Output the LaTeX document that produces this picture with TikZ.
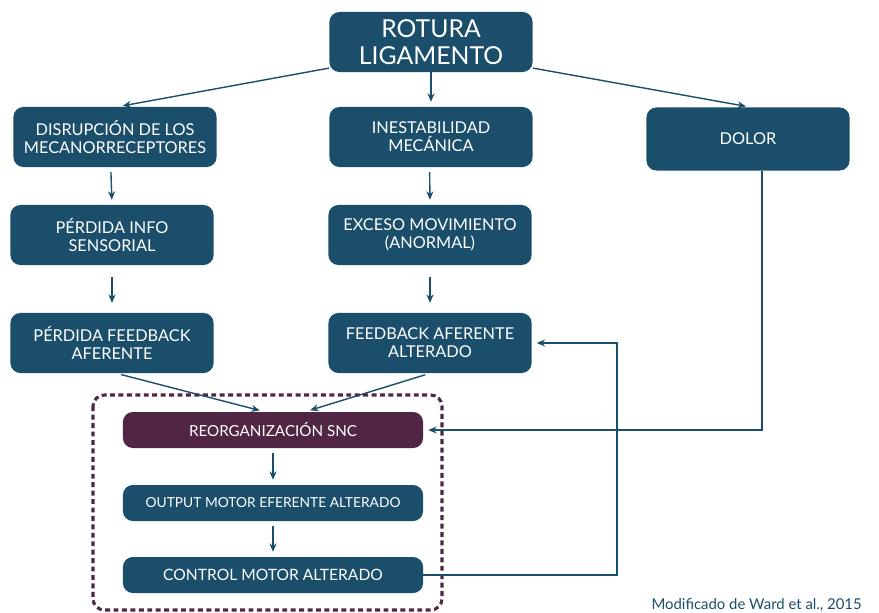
\documentclass[tikz,border=0pt]{standalone}
\usepackage{fontspec}
\setmainfont{Lato}
\usetikzlibrary{arrows.meta}

\definecolor{azul}{RGB}{27,78,106}
\definecolor{morado}{RGB}{80,38,68}

\tikzset{
  caja/.style={draw=none, fill=azul, rounded corners=7pt, text=white,
    align=center, font=\fontsize{11.6}{12.8}\selectfont,
    minimum width=5.075cm, minimum height=1.5cm, inner sep=2pt},
  cajaplana/.style={caja, minimum width=7.5cm, minimum height=0.9cm,
    font=\fontsize{10.8}{12}\selectfont},
  flecha/.style={draw=azul, line width=1pt, -{Stealth[length=6pt,width=5pt]},
    shorten <=3.5pt, shorten >=3.5pt}
}

\begin{document}
\begin{tikzpicture}[x=0.025cm,y=-0.025cm]

\useasboundingbox (0,0) rectangle (879,612);

% Fila superior
\node[caja, font=\fontsize{17.6}{19}\selectfont] (rotura) at (431,42) {ROTURA\\LIGAMENTO};

% Columnas
\node[caja] (disrupcion) at (115,137) {DISRUPCIÓN DE LOS\\MECANORRECEPTORES};
\node[caja] (inestab) at (431,137) {INESTABILIDAD\\MECÁNICA};
\node[caja, minimum height=1.575cm] (dolor) at (748,139) {DOLOR};

\node[caja] (info) at (112,235) {PÉRDIDA INFO\\SENSORIAL};
\node[caja] (exceso) at (430,235) {EXCESO MOVIMIENTO\\(ANORMAL)};

\node[caja] (pfeed) at (112,343) {PÉRDIDA FEEDBACK\\AFERENTE};
\node[caja] (afer) at (430,343) {FEEDBACK AFERENTE\\ALTERADO};

% Bloque SNC
\node[cajaplana, fill=morado] (reorg) at (273,430) {REORGANIZACIÓN SNC};
\node[cajaplana, font=\fontsize{9.8}{11}\selectfont] (output) at (273,503) {OUTPUT MOTOR EFERENTE ALTERADO};
\node[cajaplana, font=\fontsize{11.1}{12}\selectfont] (control) at (273,575) {CONTROL MOTOR ALTERADO};

\draw[morado, line width=2.2pt, dash pattern=on 3.5pt off 2.5pt, rounded corners=8pt]
  (93,395) rectangle (442,610);

% Flechas
\draw[flecha, shorten <=0pt] ([yshift=3pt]rotura.south west) -- ([xshift=2pt]disrupcion.north);
\draw[flecha, shorten <=0pt] (rotura.south) -- (inestab.north);
\draw[flecha, shorten <=0pt] ([yshift=3pt]rotura.south east) -- ([xshift=2pt]dolor.north);

\draw[flecha] ([xshift=-3pt]disrupcion.south) -- (info.north);
\draw[flecha, shorten <=8pt, shorten >=7pt] (info.south) -- (pfeed.north);
\draw[flecha] ([xshift=-1pt]inestab.south) -- (exceso.north);
\draw[flecha, shorten <=8pt, shorten >=7pt] (exceso.south) -- (afer.north);

\draw[flecha] ([xshift=3pt]pfeed.south) -- ([xshift=-6pt]reorg.north);
\draw[flecha] (afer.south) -- ([xshift=23pt]reorg.north);

\draw[flecha, shorten <=0pt] ([xshift=10pt]dolor.south) |- (reorg.east);

\draw[flecha] (reorg.south) -- (output.north);
\draw[flecha] (output.south) -- (control.north);

\coordinate (retorno) at (617,575);
\draw[flecha, shorten <=0pt] (control.east) -- (retorno) |- (afer.east);

% Fuente
\node[text=azul, anchor=east, inner sep=0pt, font=\fontsize{10.6}{13}\selectfont] (fuente) at (862,605) {Modificado de Ward et al., 2015};

\end{tikzpicture}
\end{document}
